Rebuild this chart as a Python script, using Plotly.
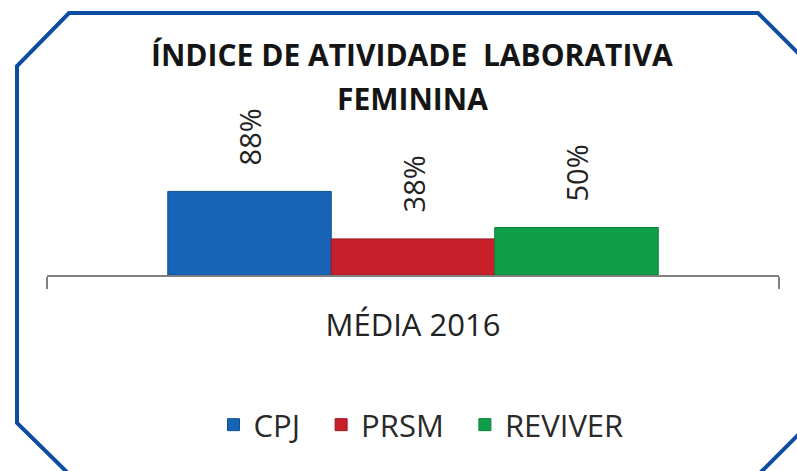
import plotly.graph_objects as go

categories = ["MÉDIA 2016"]
series_names = ["CPJ", "PRSM", "REVIVER"]
series_values = [88, 38, 50]
series_colors = ["#1764b6", "#c8202b", "#119e48"]
series_edges = ["#0f4f95", "#9e1820", "#0b7f39"]
title_lines = ["ÍNDICE DE ATIVIDADE\u00a0 LABORATIVA", "FEMININA"]

W, H = 797, 471
L, R, T, B = 47, 18, 180, 196
plot_w = W - L - R
plot_h = H - T - B
bargap = 0.33
bar_px = plot_w * (1 - bargap) / len(series_values)

def px_to_paper(x, y):
    return (x - L) / plot_w, (H - B - y) / plot_h

fig = go.Figure()
n = len(series_values)
for i, (name, val, col, edge) in enumerate(zip(series_names, series_values, series_colors, series_edges)):
    pad = "\u00a0\u00a0" if i < n - 1 else ""
    fig.add_trace(go.Bar(
        x=categories, y=[val], name=name + pad,
        marker=dict(color=col, line=dict(width=1, color=edge)),
        cliponaxis=False,
    ))

annotations = []
for i, val in enumerate(series_values):
    annotations.append(dict(
        x=categories[0], y=val, xref="x", yref="y",
        text=f"{val}%", showarrow=False, textangle=-90,
        xanchor="center", yanchor="bottom",
        xshift=(i - (n - 1) / 2) * bar_px, yshift=24,
        font=dict(family="Open Sans", size=29, color="#222222"),
    ))

for text, ypx in zip(title_lines, [55, 98]):
    xp, yp = px_to_paper(412, ypx)
    annotations.append(dict(
        x=xp, y=yp, xref="paper", yref="paper", text=f"<b>{text}</b>",
        showarrow=False, xanchor="center", yanchor="middle",
        font=dict(family="Open Sans", size=30, color="#151515"),
    ))

# decorative border (octagonal frame)
pts = [(75, 480), (17, 423), (17, 66), (69, 13), (758, 13), (830, 85),
       (830, 403), (762, 471), (753, 480)]
path = ""
for k, (x, y) in enumerate(pts):
    xp, yp = px_to_paper(x, y)
    path += ("M" if k == 0 else "L") + f"{xp:.5f},{yp:.5f} "

lx, ly = px_to_paper(421, 425)

fig.update_layout(
    width=W, height=H,
    margin=dict(l=L, r=R, t=T, b=B, autoexpand=False),
    paper_bgcolor="white", plot_bgcolor="white",
    barmode="group", bargap=bargap, bargroupgap=0,
    showlegend=True,
    legend=dict(orientation="h", x=lx, y=ly, xanchor="center", yanchor="middle",
                font=dict(family="Open Sans", size=31, color="#2a2a2a"),
                itemwidth=30),
    xaxis=dict(type="category", showline=True, linecolor="#808080", linewidth=1.5,
               ticks="outside", tickson="boundaries", ticklen=12, tickcolor="#808080",
               tickwidth=1.5, showgrid=False, ticklabelstandoff=22,
               tickfont=dict(family="Open Sans", size=31, color="#222222")),
    yaxis=dict(range=[0, 100], visible=False, showgrid=False, zeroline=False),
    annotations=annotations,
    shapes=[dict(type="path", path=path, xref="paper", yref="paper",
                 line=dict(color="#0c4da2", width=4), layer="above")],
)

fig.write_html("out.html", config={"displayModeBar": False},
               post_script="document.body.style.margin='0';")
